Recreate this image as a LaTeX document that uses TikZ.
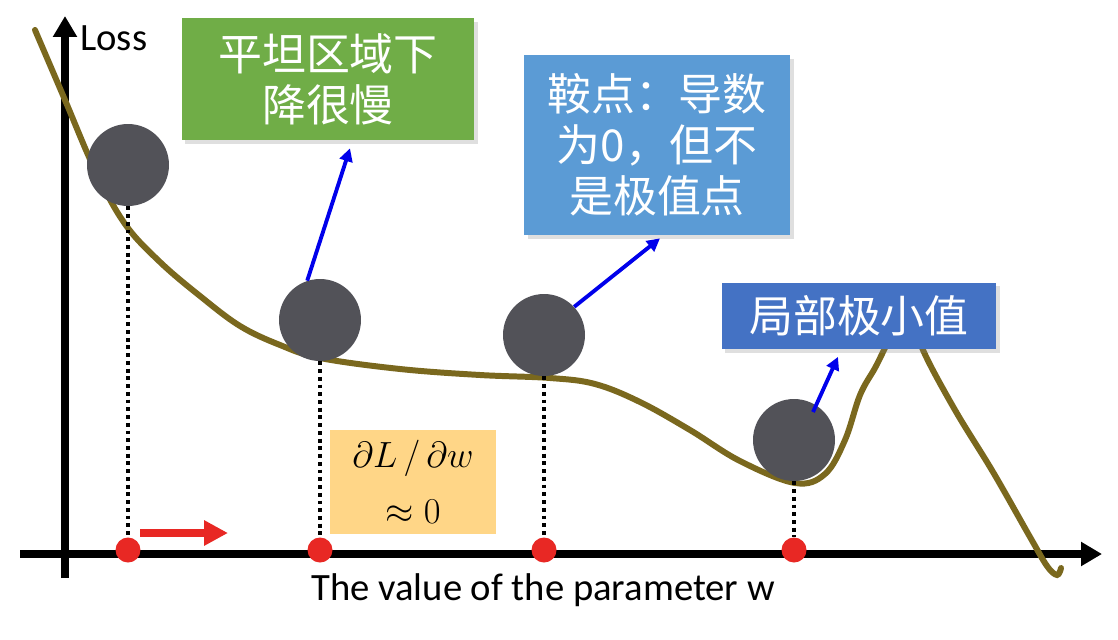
\documentclass[tikz,border=0pt]{standalone}
\usepackage{fontspec}
\setmainfont{Carlito}
\newfontfamily\cjk{Noto Sans CJK SC}
\usepackage{tikz}
\usetikzlibrary{calc,positioning,arrows.meta,shadows}

\definecolor{lossbrown}{RGB}{122,104,30}
\definecolor{ballgray}{RGB}{82,82,88}
\definecolor{flatgreen}{RGB}{112,173,71}
\definecolor{saddleblue}{RGB}{91,155,213}
\definecolor{minblue}{RGB}{68,114,196}
\definecolor{gradorange}{RGB}{255,214,135}
\definecolor{dotred}{RGB}{232,40,36}

\begin{document}
\begin{tikzpicture}[x=0.02cm,y=-0.02cm,
    ball/.style={circle,fill=ballgray,minimum size=1.64cm,inner sep=0pt},
    reddot/.style={circle,fill=dotred,minimum size=0.5cm,inner sep=0pt},
    guide/.style={black,line width=2.2pt,dash pattern=on 2.2pt off 2.2pt},
    notebox/.style={text=white,font=\cjk\fontsize{25}{29}\selectfont,align=center,
        inner sep=0pt,drop shadow={opacity=0.25,shadow xshift=2pt,shadow yshift=-2pt}},
    pointer/.style={blue!92!black,line width=2.2pt,-{Triangle[length=0.26cm,width=0.26cm]}}
]
    \useasboundingbox (0,0) rectangle (1118,639);
    \fill[white] (0,0) rectangle (1118,639);

    % axes
    \coordinate (xstart) at (20,554);
    \coordinate (xend) at (1102,554);
    \coordinate (ystart) at (65,578);
    \coordinate (yend) at (65,16);
    \draw[line width=4pt,-{Triangle[length=0.42cm,width=0.46cm]}] (xstart) -- (xend);
    \draw[line width=4pt,-{Triangle[length=0.42cm,width=0.46cm]}] (ystart) -- (yend);
    \node[anchor=west,inner sep=0pt,font=\fontsize{22}{26}\selectfont] (losslbl) at (80,38) {Loss};
    \node[font=\fontsize{22}{26}\selectfont] (wlbl) at (543,590) {The value of the parameter w};

    % loss curve
    \draw[lossbrown,line width=3.4pt,line cap=round] plot[smooth,tension=0.6] coordinates {
        (35,30) (65,100) (95,170) (125,224) (160,262) (200,296) (240,326) (280,345) (320,358)
        (400,369) (480,375) (550,378) (595,384) (640,402) (690,430) (740,461)
        (795,483) (825,474) (845,440) (860,395) (875,368) (884,350) (900,318)
        (915,318) (923,350) (955,410) (993,472) (1030,537) (1047,566) (1057,575) (1061,568)};

    % balls and points on the axis
    \node[ball] (b1) at (128,165) {};
    \node[ball] (b2) at (320,320) {};
    \node[ball] (b3) at (544,335) {};
    \node[ball] (b4) at (794,440) {};
    \node[reddot] (d1) at (128,550) {};
    \node[reddot] (d2) at (320,550) {};
    \node[reddot] (d3) at (544,550) {};
    \node[reddot] (d4) at (794,550) {};
    \foreach \b/\d in {b1/d1,b2/d2,b3/d3,b4/d4}
        \draw[guide] (\b.south) -- (\d.north);

    % boxes
    \node[notebox,fill=flatgreen,minimum width=5.86cm,minimum height=2.44cm] (flat) at (328,79)
        {平坦区域下\\降很慢};
    \node[notebox,fill=saddleblue,minimum width=5.32cm,minimum height=3.6cm] (saddle) at (657,145)
        {鞍点：导数\\为0，但不\\是极值点};
    \node[notebox,fill=minblue,minimum width=5.5cm,minimum height=1.34cm] (minima) at (859,316)
        {局部极小值};
    \node[fill=gradorange,minimum width=3.34cm,minimum height=2.1cm,inner sep=0pt,align=center,
        font=\fontsize{22}{32}\selectfont] (grad) at (413,482) {$\partial L\,/\,\partial w$\\$\approx 0$};

    % arrows
    \draw[pointer] (b2.108) -- ($(flat.south)+(22,8)$);
    \draw[pointer] (b3.43) -- ($(saddle.south)+(3,3)$);
    \draw[pointer] ($(b4.center)+(19,-28)$) -- ($(minima.south)+(-21,7)$);
    \coordinate (push0) at (140,533);
    \coordinate (push1) at (228,533);
    \draw[dotred,line width=4.5pt,-{Triangle[length=0.48cm,width=0.48cm]}] (push0) -- (push1);
\end{tikzpicture}
\end{document}
